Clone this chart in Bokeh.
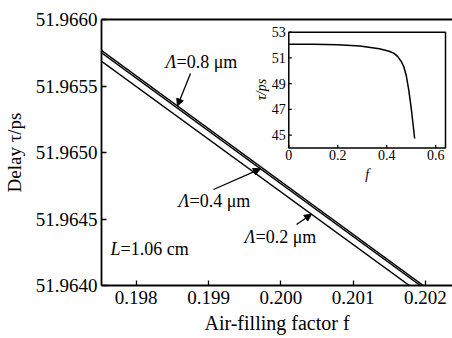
import numpy as np
from bokeh.plotting import figure
from bokeh.models import (Range1d, LinearAxis, FixedTicker, PrintfTickFormatter,
                          Arrow, NormalHead)
from bokeh.core.properties import value
from bokeh.embed import file_html
from bokeh.resources import INLINE

# ---------------- data ----------------
f_main = [0.1975, 0.2020]
tau_lambda_08 = [51.965775, 51.963988]
tau_lambda_04 = [51.965758, 51.963972]
tau_lambda_02 = [51.965694, 51.963912]
main_xticks = [0.198, 0.199, 0.200, 0.201, 0.202]
main_yticks = [51.9640, 51.9645, 51.9650, 51.9655, 51.9660]

f_inset = [0.0, 0.1, 0.2, 0.29, 0.37, 0.41, 0.43, 0.445, 0.46, 0.47, 0.48, 0.49, 0.50, 0.514]
tau_inset = [52.07, 52.07, 52.03, 51.92, 51.72, 51.52, 51.35, 51.1, 50.7, 50.3, 49.6, 48.5, 47.1, 44.74]
inset_xticks = [0.0, 0.2, 0.4, 0.6]
inset_xtick_labels = ["0", "0.2", "0.4", "0.6"]
inset_yticks = [45, 47, 49, 51, 53]
inset_ytick_labels = ["45", "47", "49", "51", "53"]

# ---------------- geometry ----------------
W, H = 452, 338
BL, BR, BT, BB = 101, 0, 19, 53
FW, FH = W - BL - BR, H - BT - BB
X0, X1 = 0.19752, 0.19752 + FW / 72300.0
Y0, Y1 = 51.9640, 51.9660

FONT = "Liberation Serif"

p = figure(width=W, height=H, output_backend="svg", toolbar_location=None,
           x_range=Range1d(X0, X1), y_range=Range1d(Y0, Y1),
           min_border_left=BL, min_border_right=BR, min_border_top=BT,
           min_border_bottom=BB, background_fill_color="white",
           border_fill_color="white")
p.outline_line_color = None
p.xgrid.visible = False
p.ygrid.visible = False

for ax in (p.xaxis[0], p.yaxis[0]):
    ax.axis_line_width = 1.8
    ax.axis_line_color = "black"
    ax.major_tick_in = 5
    ax.major_tick_out = 0
    ax.major_tick_line_width = 1.3
    ax.minor_tick_line_color = None
    ax.major_label_text_font = FONT
    ax.major_label_text_font_size = "19px"
    ax.major_label_text_color = "black"
    ax.axis_label_text_font = FONT
    ax.axis_label_text_font_style = "normal"
    ax.axis_label_text_color = "black"

p.xaxis[0].ticker = FixedTicker(ticks=main_xticks)
p.xaxis[0].formatter = PrintfTickFormatter(format="%.3f")
p.xaxis[0].major_label_standoff = 5
p.xaxis[0].axis_label = "Air-filling factor f"
p.xaxis[0].axis_label_text_font_size = "20px"
p.xaxis[0].axis_label_standoff = 5

p.yaxis[0].ticker = FixedTicker(ticks=main_yticks)
p.yaxis[0].formatter = PrintfTickFormatter(format="%.4f")
p.yaxis[0].major_label_standoff = 4
p.yaxis[0].axis_label = "Delay τ/ps"
p.yaxis[0].axis_label_text_font_size = "19px"
p.yaxis[0].axis_label_standoff = 8

top_axis = LinearAxis(ticker=FixedTicker(ticks=[]), major_label_text_font_size="0px",
                      axis_line_width=1.8, axis_line_color="black",
                      major_tick_line_color=None, minor_tick_line_color=None)
p.add_layout(top_axis, "above")

# main lines
for tau in (tau_lambda_08, tau_lambda_04, tau_lambda_02):
    p.line(f_main, tau, line_color="black", line_width=1.4)

# annotations: italic symbol + upright remainder
txt = dict(text_font=value(FONT), text_font_size="18px", text_color="black",
           text_align="left", text_baseline="middle")

def label(x, y, sym, rest, sym_w):
    p.text(x=[x], y=[y], text=[sym], text_font_style="italic", **txt)
    p.text(x=[x], y=[y], text=[rest], x_offset=sym_w, **txt)

label(0.198405, 51.965677, "Λ", "=0.8 μm", 11)
label(0.198585, 51.964632, "Λ", "=0.4 μm", 11)
label(0.199498, 51.964361, "Λ", "=0.2 μm", 11)
label(0.197645, 51.964278, "L", "=1.06 cm", 10)

def on_line(tau, f):
    return float(np.interp(f, f_main, tau))

arrows = [
    ((0.198751, 51.965594), 0.19857, tau_lambda_08),
    ((0.199069, 51.964722), 0.199719, tau_lambda_04),
    ((0.200217, 51.964459), 0.200425, tau_lambda_02),
]
for (xs, ys), fx, tau in arrows:
    p.add_layout(Arrow(x_start=xs, y_start=ys, x_end=fx, y_end=on_line(tau, fx),
                       line_color="black", line_width=1.3,
                       end=NormalHead(size=7, fill_color="black", line_color="black")))

# ---------------- inset (drawn on extra ranges) ----------------
IL, IR, IT, IB = 288.3, 445.0, 31.7, 147.5
ix0, ix1 = 0.0, 0.64
iy0, iy1 = 44.0, 53.0
sx = (IR - IL) / (ix1 - ix0)
sy = (IB - IT) / (iy1 - iy0)
p.extra_x_ranges = {"ix": Range1d(ix0 - (IL - BL) / sx, ix1 + (W - BR - IR) / sx)}
p.extra_y_ranges = {"iy": Range1d(iy0 - ((H - BB) - IB) / sy, iy1 + (IT - BT) / sy)}
R = dict(x_range_name="ix", y_range_name="iy")

p.quad(left=[ix0], right=[ix1], bottom=[iy0], top=[iy1], fill_color="white",
       line_color="black", line_width=1.5, **R)
p.line(f_inset, tau_inset, line_color="black", line_width=1.5, **R)

tl = 3.0
p.segment(x0=inset_xticks, y0=[iy0] * len(inset_xticks), x1=inset_xticks,
          y1=[iy0 + tl / sy] * len(inset_xticks), line_color="black", line_width=1.2, **R)
p.segment(x0=[ix0] * len(inset_yticks), y0=inset_yticks, x1=[ix0 + tl / sx] * len(inset_yticks),
          y1=inset_yticks, line_color="black", line_width=1.2, **R)

itxt = dict(text_font=value(FONT), text_font_size="14px", text_color="black")
p.text(x=inset_xticks, y=[iy0] * len(inset_xticks), text=inset_xtick_labels,
       text_align="center", text_baseline="top", y_offset=2, **itxt, **R)
p.text(x=[ix0] * len(inset_yticks), y=inset_yticks, text=inset_ytick_labels,
       text_align="right", text_baseline="middle", x_offset=-3, **itxt, **R)
p.text(x=[ix0 - (IL - 261) / sx], y=[iy1 - (89 - IT) / sy], text=["τ/ps"], angle=np.pi / 2,
       text_align="center", text_baseline="middle", text_font_style="italic", **itxt, **R)
p.text(x=[(ix0 + ix1) / 2], y=[iy0], text=["f"], text_align="center", text_baseline="middle",
       y_offset=26, text_font_style="italic", **itxt, **R)

open("out.html", "w").write(file_html(p, INLINE))
